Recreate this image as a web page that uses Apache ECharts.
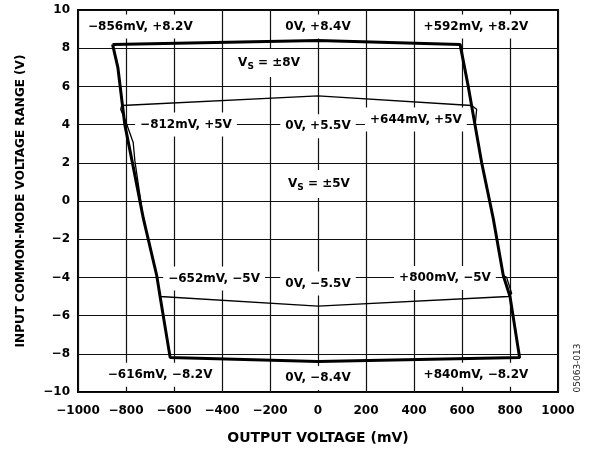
<!DOCTYPE html>
<html>
<head>
<meta charset="utf-8">
<script src="https://cdn.jsdelivr.net/npm/echarts@6/dist/echarts.min.js"></script>
<style>
  html, body { margin: 0; padding: 0; background: #fff; }
  #chart { width: 590px; height: 450px; }
</style>
</head>
<body>
<div id="chart"></div>
<script>
// Vs = ±8V loop (thick), output voltage in mV / input CM voltage in V
const vs8Mv = [-856, 0, 592, 626, 682, 730, 772, 800, 840, 0, -616, -658, -672, -728, -770, -805, -834, -856];
const vs8V = [8.2, 8.4, 8.2, 6.0, 2.0, -0.9, -3.9, -5.0, -8.2, -8.4, -8.2, -5.0, -3.9, -0.9, 1.8, 4.0, 7.0, 8.2];

// Vs = ±5V loop (thin)
const vs5Mv = [-818, 0, 640, 661, 655, 682, 730, 772, 786, 807, 793, 0, -658, -672, -728, -763, -770, -804, -822, -818];
const vs5V = [5.0, 5.5, 5.0, 4.8, 4.0, 2.0, -0.9, -3.9, -4.0, -4.84, -5.0, -5.5, -5.0, -3.9, -0.9, 2.1, 3.06, 4.27, 4.79, 5.0];

// axes
const xMin = -1000, xMax = 1000, xStep = 200;
const yMin = -10, yMax = 10, yStep = 2;

// annotations
const noteText = [
  '\u2212856mV, +8.2V', '0V, +8.4V', '+592mV, +8.2V', '{v|V}{s|S}{v| = \u00b18V}',
  '\u2212812mV, +5V', '0V, +5.5V', '+644mV, +5V', '{v|V}{s|S}{v| = \u00b15V}',
  '\u2212652mV, \u22125V', '0V, \u22125.5V', '+800mV, \u22125V',
  '\u2212616mV, \u22128.2V', '0V, \u22128.4V', '+840mV, \u22128.2V'
];
const noteMv = [-740, 0, 658, -204, -550, 0, 408, 4, -433, 0, 529, -658, 0, 658];
const noteV = [9.13, 9.13, 9.13, 7.22, 4.01, 3.92, 4.27, 0.89, -4.06, -4.32, -4.03, -9.10, -9.27, -9.10];

const FONT = 'DejaVu Sans';
function zip(a, b) { return a.map((v, i) => [v, b[i]]); }
function minus(v) { return v < 0 ? '\u2212' + Math.abs(v) : String(v); }

let myChart = echarts.init(document.getElementById('chart'), null, { renderer: 'canvas' });
let option = {
  backgroundColor: '#fff',
  animation: false,
  grid: {
    left: 78, right: 32, top: 10, bottom: 56,
    show: true, borderColor: '#000', borderWidth: 2, backgroundColor: 'transparent'
  },
  xAxis: {
    type: 'value', min: xMin, max: xMax, interval: xStep,
    name: 'OUTPUT VOLTAGE (mV)', nameLocation: 'middle', nameGap: 39,
    nameTextStyle: { fontFamily: FONT, fontWeight: 'bold', fontSize: 14, color: '#000' },
    axisLine: { show: false },
    axisTick: { show: false },
    axisLabel: { margin: 13, fontFamily: FONT, fontWeight: 'bold', fontSize: 12, color: '#000', formatter: minus },
    splitLine: { show: true, lineStyle: { color: '#111', width: 1.2 } }
  },
  yAxis: {
    type: 'value', min: yMin, max: yMax, interval: yStep,
    name: 'INPUT COMMON-MODE VOLTAGE RANGE (V)', nameLocation: 'middle', nameGap: 51,
    nameTextStyle: { fontFamily: FONT, fontWeight: 'bold', fontSize: 12, color: '#000' },
    axisLine: { show: false },
    axisTick: { show: false },
    axisLabel: { margin: 8, fontFamily: FONT, fontWeight: 'bold', fontSize: 12, color: '#000', formatter: minus },
    splitLine: { show: true, lineStyle: { color: '#111', width: 1.2 } }
  },
  series: [
    {
      name: 'VS = ±5V', type: 'line', data: zip(vs5Mv, vs5V), symbol: 'none',
      lineStyle: { color: '#000', width: 1.3 }, z: 3
    },
    {
      name: 'VS = ±8V', type: 'line', data: zip(vs8Mv, vs8V), symbol: 'none',
      lineStyle: { color: '#000', width: 3 }, z: 4
    },
    {
      name: 'notes', type: 'scatter', symbolSize: 0, z: 5, silent: true,
      itemStyle: { opacity: 1, color: '#000' },
      data: noteText.map((t, i) => ({ value: [noteMv[i], noteV[i]], text: t })),
      label: {
        show: true, position: 'inside', opacity: 1,
        formatter: p => p.data.text,
        fontFamily: FONT, fontWeight: 'bold', fontSize: 12, color: '#000',
        textBorderWidth: 0,
        backgroundColor: '#fff', padding: [6, 5],
        rich: {
          v: { fontFamily: FONT, fontWeight: 'bold', fontSize: 12, color: '#000' },
          s: { fontFamily: FONT, fontWeight: 'bold', fontSize: 9, color: '#000', padding: [7, 0, 0, 0] }
        }
      }
    }
  ],
  graphic: [
    {
      type: 'text', x: 578, y: 368, rotation: Math.PI / 2,
      style: { text: '05063-013', font: '9px "DejaVu Sans"', fill: '#222', align: 'center', verticalAlign: 'middle' }
    }
  ]
};
myChart.setOption(option);
</script>
</body>
</html>
